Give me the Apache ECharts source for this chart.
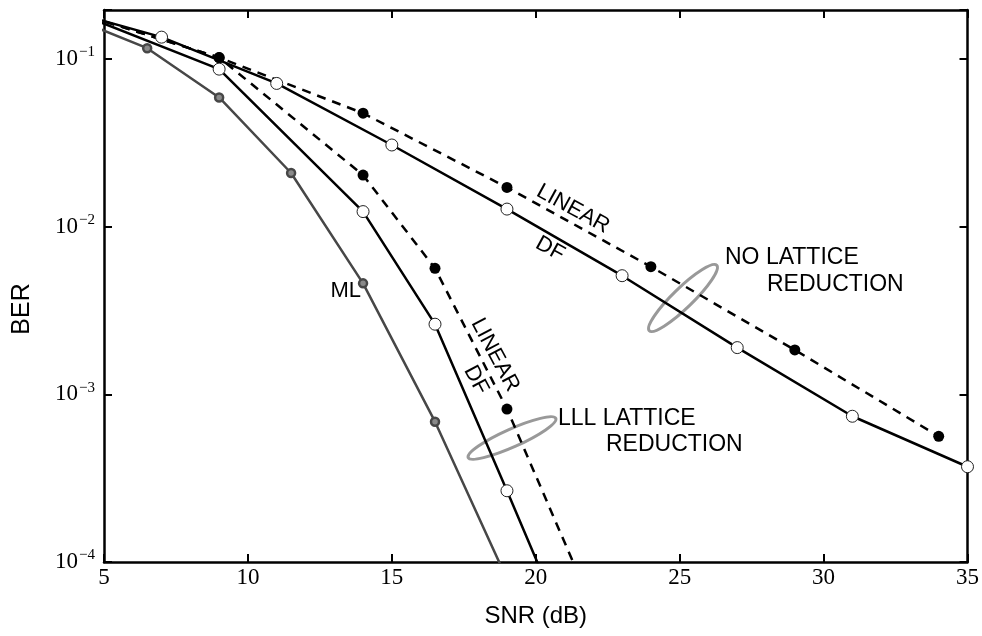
<!DOCTYPE html>
<html>
<head>
<meta charset="utf-8">
<script src="https://cdn.jsdelivr.net/npm/echarts@6/dist/echarts.min.js"></script>
<style>
  html, body { margin: 0; padding: 0; background: #fff; }
  #chart { width: 982px; height: 636px; }
</style>
</head>
<body>
<div id="chart"></div>
<script>
// BER vs SNR curves
var mlSnr = [4, 6.5, 9, 11.5, 14, 16.5, 19];
var mlBer = [0.173, 0.116, 0.059, 0.0209, 0.00459, 0.000687, 0.000079];

var lllDfSnr = [4, 9, 14, 16.5, 19, 21.5];
var lllDfBer = [0.19, 0.087, 0.0123, 0.00262, 0.000266, 0.000026];

var lllLinSnr = [4, 9, 14, 16.5, 19, 21.5];
var lllLinBer = [0.19, 0.102, 0.0203, 0.00564, 0.000817, 0.000083];

var noLrLinSnr = [4, 9, 14, 19, 24, 29, 34];
var noLrLinBer = [0.19, 0.102, 0.0475, 0.01715, 0.00577, 0.00184, 0.000562];

var noLrDfSnr = [3, 7, 11, 15, 19, 23, 27, 31, 35];
var noLrDfBer = [0.21, 0.135, 0.0715, 0.0307, 0.01273, 0.0051, 0.0019, 0.00074, 0.00037];

var yTickExp = [-4, -3, -2, -1];
var snrMin = 5, snrMax = 35, snrStep = 5;
var berMin = 1e-4, berMax = 0.196;

function pairs(xs, ys) {
    var out = [];
    for (var i = 0; i < xs.length; i++) {
        out.push([xs[i], ys[i]]);
    }
    return out;
}

function berLabel(v) {
    var e = Math.round(Math.log(v) / Math.LN10);
    if (yTickExp.indexOf(e) < 0) return '';
    if (Math.abs(v / Math.pow(10, e) - 1) > 1e-6) return '';
    return '{b|10}{s|\u2212' + (-e) + '}';
}

var serif = '"Liberation Serif", "DejaVu Serif", serif';
var sans = '"Liberation Sans", Arial, sans-serif';

var chart = echarts.init(document.getElementById('chart'), null, { renderer: 'canvas' });

var tickStyle = { show: true, inside: true, length: 8, lineStyle: { color: '#000', width: 2 } };
var lineAxis = { show: true, onZero: false, lineStyle: { color: '#000', width: 2.5 } };

var openCircle = { color: '#fff', borderColor: '#222', borderWidth: 1 };
var filledCircle = { color: '#000', borderColor: '#000', borderWidth: 0 };
var dash = [9, 7];

chart.setOption({
    animation: false,
    backgroundColor: '#fff',
    grid: { left: 104, right: 13, top: 10, bottom: 74 },
    xAxis: [
        {
            type: 'value',
            min: snrMin, max: snrMax, interval: snrStep,
            position: 'bottom',
            name: 'SNR (dB)',
            nameLocation: 'middle',
            nameGap: 42,
            nameTextStyle: { fontFamily: sans, fontSize: 24, color: '#000' },
            axisLine: lineAxis,
            axisTick: tickStyle,
            axisLabel: { color: '#000', fontFamily: serif, fontSize: 23, margin: 4 },
            splitLine: { show: false }
        },
        {
            type: 'value',
            min: snrMin, max: snrMax, interval: snrStep,
            position: 'top',
            axisLine: lineAxis,
            axisTick: tickStyle,
            axisLabel: { show: false },
            splitLine: { show: false }
        }
    ],
    yAxis: [
        {
            type: 'log',
            logBase: 10,
            min: berMin, max: berMax,
            position: 'left',
            axisLine: lineAxis,
            axisTick: tickStyle,
            minorTick: { show: false },
            axisLabel: {
                color: '#000',
                margin: 9,
                formatter: berLabel,
                rich: {
                    b: { fontFamily: serif, fontSize: 23, color: '#000' },
                    s: { fontFamily: serif, fontSize: 15, color: '#000', padding: [0, 0, 13, 1] }
                }
            },
            splitLine: { show: false }
        },
        {
            type: 'log',
            logBase: 10,
            min: berMin, max: berMax,
            position: 'right',
            axisLine: lineAxis,
            axisTick: tickStyle,
            axisLabel: { show: false },
            splitLine: { show: false }
        }
    ],
    series: [
        {
            name: 'ML',
            type: 'line',
            data: pairs(mlSnr, mlBer),
            symbol: 'circle',
            symbolSize: 8,
            lineStyle: { color: '#474747', width: 2.5 },
            itemStyle: { color: '#8a8a8a', borderColor: '#474747', borderWidth: 2.5 },
            z: 2
        },
        {
            name: 'LLL DF',
            type: 'line',
            data: pairs(lllDfSnr, lllDfBer),
            symbol: 'circle',
            symbolSize: 12,
            lineStyle: { color: '#000', width: 2.5 },
            itemStyle: openCircle,
            z: 3
        },
        {
            name: 'LLL linear',
            type: 'line',
            data: pairs(lllLinSnr, lllLinBer),
            symbol: 'circle',
            symbolSize: 11,
            lineStyle: { color: '#000', width: 2.5, type: dash },
            itemStyle: filledCircle,
            z: 3
        },
        {
            name: 'No LR DF',
            type: 'line',
            data: pairs(noLrDfSnr, noLrDfBer),
            symbol: 'circle',
            symbolSize: 12,
            lineStyle: { color: '#000', width: 2.5 },
            itemStyle: openCircle,
            z: 3
        },
        {
            name: 'No LR linear',
            type: 'line',
            data: pairs(noLrLinSnr, noLrLinBer),
            symbol: 'circle',
            symbolSize: 11,
            lineStyle: { color: '#000', width: 2.5, type: dash },
            itemStyle: filledCircle,
            z: 3
        }
    ],
    graphic: [
        { type: 'text', x: 22, y: 309, rotation: Math.PI / 2,
          style: { text: 'BER', fontFamily: sans, fontSize: 25, fill: '#000', align: 'center', verticalAlign: 'middle' } },

        { type: 'text', x: 573, y: 209, rotation: -0.5,
          style: { text: 'LINEAR', fontFamily: sans, fontSize: 22, fill: '#000', align: 'center', verticalAlign: 'middle' } },
        { type: 'text', x: 550, y: 249, rotation: -0.5,
          style: { text: 'DF', fontFamily: sans, fontSize: 22, fill: '#000', align: 'center', verticalAlign: 'middle' } },

        { type: 'text', x: 495, y: 355, rotation: -1.08,
          style: { text: 'LINEAR', fontFamily: sans, fontSize: 22, fill: '#000', align: 'center', verticalAlign: 'middle' } },
        { type: 'text', x: 476, y: 380, rotation: -1.08,
          style: { text: 'DF', fontFamily: sans, fontSize: 22, fill: '#000', align: 'center', verticalAlign: 'middle' } },

        { type: 'text', x: 361, y: 291,
          style: { text: 'ML', fontFamily: sans, fontSize: 22, fill: '#000', align: 'right', verticalAlign: 'middle' } },

        { type: 'text', x: 725, y: 258,
          style: { text: 'NO LATTICE', fontFamily: sans, fontSize: 23, fill: '#000', align: 'left', verticalAlign: 'middle' } },
        { type: 'text', x: 767, y: 285,
          style: { text: 'REDUCTION', fontFamily: sans, fontSize: 23, fill: '#000', align: 'left', verticalAlign: 'middle' } },

        { type: 'text', x: 558, y: 419,
          style: { text: 'LLL LATTICE', fontFamily: sans, fontSize: 23, fill: '#000', align: 'left', verticalAlign: 'middle' } },
        { type: 'text', x: 606, y: 445,
          style: { text: 'REDUCTION', fontFamily: sans, fontSize: 23, fill: '#000', align: 'left', verticalAlign: 'middle' } },

        { type: 'ellipse', x: 683, y: 298, rotation: 0.77, z: 1,
          shape: { cx: 0, cy: 0, rx: 47, ry: 10 },
          style: { fill: 'none', stroke: '#999', lineWidth: 3 } },
        { type: 'ellipse', x: 512, y: 438, rotation: 0.42, z: 1,
          shape: { cx: 0, cy: 0, rx: 48, ry: 9 },
          style: { fill: 'none', stroke: '#999', lineWidth: 3 } }
    ]
});
</script>
</body>
</html>
